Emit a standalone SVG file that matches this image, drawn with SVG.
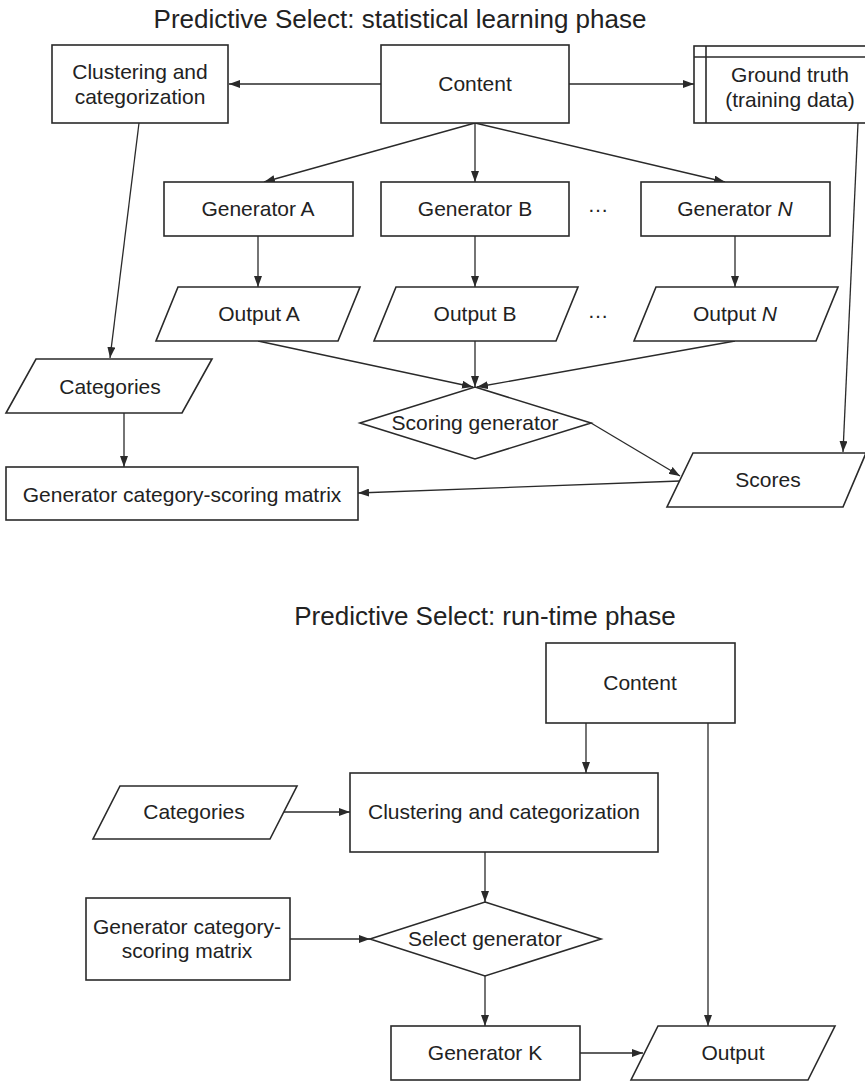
<svg xmlns="http://www.w3.org/2000/svg" width="865" height="1081" viewBox="0 0 865 1081">
  <style>
    .bg { fill: #ffffff; }
    .shape { fill: #ffffff; stroke: #2a2a2a; stroke-width: 1.6; }
    .edge { fill: none; stroke: #2a2a2a; stroke-width: 1.3; marker-end: url(#arrow); }
    .rule { stroke: #2a2a2a; stroke-width: 1.6; }
    .label { font-family: "Liberation Sans", Arial, sans-serif; font-size: 21px; fill: #222222; text-anchor: middle; }
    .title { font-family: "Liberation Sans", Arial, sans-serif; font-size: 26px; fill: #222222; text-anchor: middle; }
  </style>
  <defs>
    <marker id="arrow" markerUnits="userSpaceOnUse" markerWidth="11" markerHeight="8" refX="11" refY="4" orient="auto">
      <path d="M0,0 L11,4 L0,8 z" fill="#2a2a2a"/>
    </marker>
  </defs>

  <rect class="bg" x="0" y="0" width="865" height="1081"/>

  <!-- Learning phase -->
  <text class="title" x="400" y="28">Predictive Select: statistical learning phase</text>

  <g id="connectors-learning">
    <line class="edge" x1="381" y1="84" x2="229" y2="84"/>
    <line class="edge" x1="569" y1="84" x2="694" y2="84"/>
    <line class="edge" x1="475" y1="123" x2="264" y2="182"/>
    <line class="edge" x1="475" y1="123" x2="475" y2="182"/>
    <line class="edge" x1="475" y1="123" x2="725" y2="182"/>
    <line class="edge" x1="258" y1="236" x2="258" y2="287"/>
    <line class="edge" x1="475" y1="236" x2="475" y2="287"/>
    <line class="edge" x1="735" y1="236" x2="735" y2="287"/>
    <line class="edge" x1="258" y1="341" x2="473" y2="387"/>
    <line class="edge" x1="475" y1="341" x2="475" y2="387"/>
    <line class="edge" x1="735" y1="341" x2="477" y2="387"/>
    <line class="edge" x1="591" y1="423" x2="680" y2="476"/>
    <line class="edge" x1="858" y1="123" x2="843" y2="452"/>
    <line class="edge" x1="680" y1="481" x2="358" y2="493"/>
    <line class="edge" x1="139" y1="123" x2="110" y2="358"/>
    <line class="edge" x1="124" y1="413" x2="124" y2="467"/>
  </g>

  <g id="clustering-1">
    <rect class="shape" x="52" y="45" width="176" height="78"/>
    <text class="label" x="140" y="79">Clustering and</text>
    <text class="label" x="140" y="104">categorization</text>
  </g>

  <g id="content-1">
    <rect class="shape" x="381" y="45" width="188" height="78"/>
    <text class="label" x="475" y="91">Content</text>
  </g>

  <g id="ground-truth">
    <rect class="shape" x="694" y="46" width="180" height="77"/>
    <line class="rule" x1="694" y1="57" x2="865" y2="57"/>
    <line class="rule" x1="706" y1="46" x2="706" y2="123"/>
    <text class="label" x="790" y="82">Ground truth</text>
    <text class="label" x="790" y="107">(training data)</text>
  </g>

  <g id="generator-a">
    <rect class="shape" x="164" y="182" width="189" height="54"/>
    <text class="label" x="258" y="216">Generator A</text>
  </g>
  <g id="generator-b">
    <rect class="shape" x="381" y="182" width="188" height="54"/>
    <text class="label" x="475" y="216">Generator B</text>
  </g>
  <text class="label" x="598" y="212">…</text>
  <g id="generator-n">
    <rect class="shape" x="641" y="182" width="189" height="54"/>
    <text class="label" x="735" y="216">Generator <tspan font-style="italic">N</tspan></text>
  </g>

  <g id="output-a">
    <polygon class="shape" points="178,287 360,287 338,341 156,341"/>
    <text class="label" x="259" y="321">Output A</text>
  </g>
  <g id="output-b">
    <polygon class="shape" points="396,287 578,287 556,341 374,341"/>
    <text class="label" x="475" y="321">Output B</text>
  </g>
  <text class="label" x="598" y="318">…</text>
  <g id="output-n">
    <polygon class="shape" points="656,287 838,287 816,341 634,341"/>
    <text class="label" x="735" y="321">Output <tspan font-style="italic">N</tspan></text>
  </g>

  <g id="scoring-generator">
    <polygon class="shape" points="475,387 591,423 475,459 360,423"/>
    <text class="label" x="475" y="430">Scoring generator</text>
  </g>

  <g id="scores">
    <polygon class="shape" points="693,453 866,453 843,507 667,507"/>
    <text class="label" x="768" y="487">Scores</text>
  </g>

  <g id="categories-1">
    <polygon class="shape" points="36,359 212,359 182,413 6,413"/>
    <text class="label" x="110" y="394">Categories</text>
  </g>

  <g id="matrix-1">
    <rect class="shape" x="6" y="467" width="352" height="53"/>
    <text class="label" x="182" y="502">Generator category-scoring matrix</text>
  </g>

  <!-- Run-time phase -->
  <text class="title" x="485" y="625">Predictive Select: run-time phase</text>

  <g id="connectors-runtime">
    <line class="edge" x1="586" y1="723" x2="586" y2="773"/>
    <line class="edge" x1="708" y1="723" x2="708" y2="1026"/>
    <line class="edge" x1="283" y1="812" x2="350" y2="812"/>
    <line class="edge" x1="485" y1="852" x2="485" y2="902"/>
    <line class="edge" x1="290" y1="939" x2="370" y2="939"/>
    <line class="edge" x1="485" y1="976" x2="485" y2="1026"/>
    <line class="edge" x1="580" y1="1053" x2="643" y2="1053"/>
  </g>

  <g id="content-2">
    <rect class="shape" x="546" y="643" width="189" height="80"/>
    <text class="label" x="640" y="690">Content</text>
  </g>

  <g id="categories-2">
    <polygon class="shape" points="120,786 297,786 270,839 93,839"/>
    <text class="label" x="194" y="819">Categories</text>
  </g>

  <g id="clustering-2">
    <rect class="shape" x="350" y="773" width="308" height="79"/>
    <text class="label" x="504" y="819">Clustering and categorization</text>
  </g>

  <g id="matrix-2">
    <rect class="shape" x="86" y="898" width="204" height="82"/>
    <text class="label" x="187" y="934">Generator category-</text>
    <text class="label" x="187" y="958">scoring matrix</text>
  </g>

  <g id="select-generator">
    <polygon class="shape" points="485,902 601,939 485,976 370,939"/>
    <text class="label" x="485" y="946">Select generator</text>
  </g>

  <g id="generator-k">
    <rect class="shape" x="391" y="1026" width="189" height="54"/>
    <text class="label" x="485" y="1060">Generator K</text>
  </g>

  <g id="output">
    <polygon class="shape" points="658,1026 835,1026 808,1080 631,1080"/>
    <text class="label" x="733" y="1060">Output</text>
  </g>
</svg>
